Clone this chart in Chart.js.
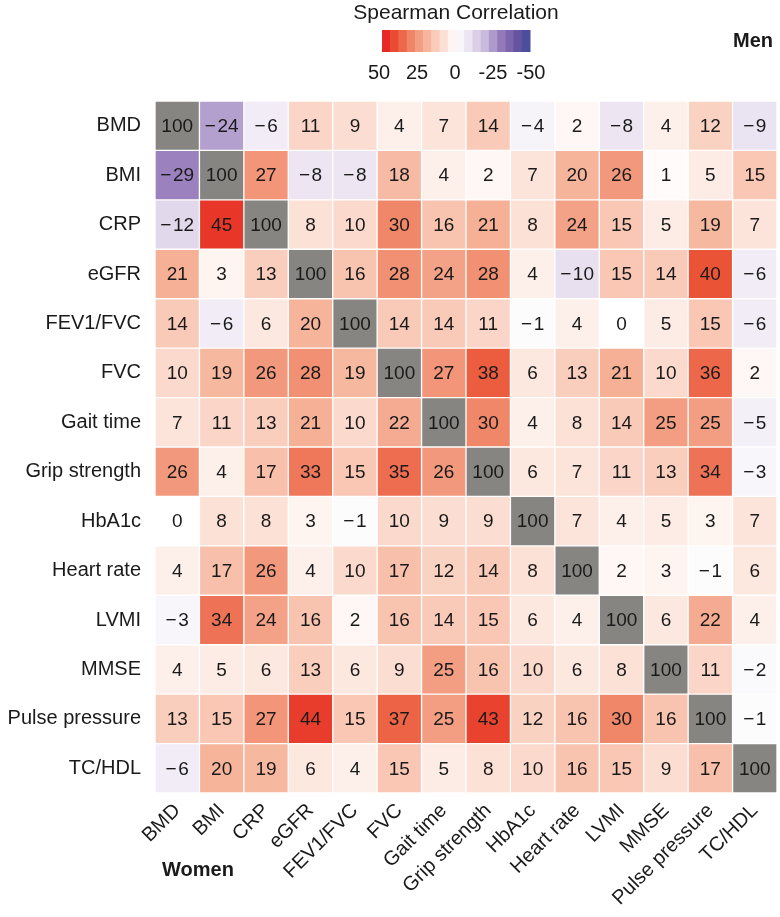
<!DOCTYPE html>
<html>
<head>
<meta charset="utf-8">
<title>Spearman Correlation</title>
<script src="https://cdn.jsdelivr.net/npm/chart.js@4.4.0/dist/chart.umd.min.js"></script>
<style>
  body { margin: 0; background: #fff; }
  canvas { display: block; }
</style>
</head>
<body>
<canvas id="heatmap" width="780" height="917"></canvas>
<script>
// Variables (same order on both axes)
const vars = ["BMD", "BMI", "CRP", "eGFR", "FEV1/FVC", "FVC", "Gait time", "Grip strength",
  "HbA1c", "Heart rate", "LVMI", "MMSE", "Pulse pressure", "TC/HDL"];

// Spearman correlation x100, one row per variable
const rowBMD   = [100, -24, -6, 11, 9, 4, 7, 14, -4, 2, -8, 4, 12, -9];
const rowBMI   = [-29, 100, 27, -8, -8, 18, 4, 2, 7, 20, 26, 1, 5, 15];
const rowCRP   = [-12, 45, 100, 8, 10, 30, 16, 21, 8, 24, 15, 5, 19, 7];
const rowEGFR  = [21, 3, 13, 100, 16, 28, 24, 28, 4, -10, 15, 14, 40, -6];
const rowFEV1  = [14, -6, 6, 20, 100, 14, 14, 11, -1, 4, 0, 5, 15, -6];
const rowFVC   = [10, 19, 26, 28, 19, 100, 27, 38, 6, 13, 21, 10, 36, 2];
const rowGait  = [7, 11, 13, 21, 10, 22, 100, 30, 4, 8, 14, 25, 25, -5];
const rowGrip  = [26, 4, 17, 33, 15, 35, 26, 100, 6, 7, 11, 13, 34, -3];
const rowHbA1c = [0, 8, 8, 3, -1, 10, 9, 9, 100, 7, 4, 5, 3, 7];
const rowHR    = [4, 17, 26, 4, 10, 17, 12, 14, 8, 100, 2, 3, -1, 6];
const rowLVMI  = [-3, 34, 24, 16, 2, 16, 14, 15, 6, 4, 100, 6, 22, 4];
const rowMMSE  = [4, 5, 6, 13, 6, 9, 25, 16, 10, 6, 8, 100, 11, -2];
const rowPP    = [13, 15, 27, 44, 15, 37, 25, 43, 12, 16, 30, 16, 100, -1];
const rowTCHDL = [-6, 20, 19, 6, 4, 15, 5, 8, 10, 16, 15, 9, 17, 100];

const rows = [rowBMD, rowBMI, rowCRP, rowEGFR, rowFEV1, rowFVC, rowGait, rowGrip,
  rowHbA1c, rowHR, rowLVMI, rowMMSE, rowPP, rowTCHDL];

// Colour bar tick labels
const legendTicks = [50, 25, 0, -25, -50];

const FONT = '"Liberation Sans", Arial, Helvetica, sans-serif';
const TEXT = "#1a1a1a";
const DIAG = "#878581";

// red -> white -> purple/blue scale
const stops = [
  [50, [228, 26, 28]],
  [40, [235, 83, 54]],
  [30, [240, 135, 105]],
  [20, [246, 180, 155]],
  [10, [251, 217, 204]],
  [0, [255, 255, 255]],
  [-10, [232, 224, 239]],
  [-20, [200, 184, 220]],
  [-30, [150, 124, 187]],
  [-40, [108, 86, 162]],
  [-50, [63, 74, 154]]
];

function colorFor(v) {
  v = Math.max(-50, Math.min(50, v));
  for (let k = 0; k < stops.length - 1; k++) {
    const [v0, c0] = stops[k];
    const [v1, c1] = stops[k + 1];
    if (v <= v0 && v >= v1) {
      const t = (v0 - v) / (v0 - v1);
      const c = c0.map((ch, n) => Math.round(ch + (c1[n] - ch) * t));
      return `rgb(${c[0]},${c[1]},${c[2]})`;
    }
  }
  return "#fff";
}

// one stacked dataset per row, every cell has height 1
const datasets = rows.map((row, i) => ({
  label: vars[i],
  data: row.map(() => 1),
  backgroundColor: row.map((v, j) => (i === j ? DIAG : colorFor(v))),
  borderColor: "rgba(255,255,255,0.3)",
  borderWidth: 1,
  borderSkipped: false,
  barPercentage: 1,
  categoryPercentage: 1
}));

// numbers inside the cells
const cellText = {
  id: "cellText",
  afterDatasetsDraw(chart) {
    const ctx = chart.ctx;
    ctx.save();
    ctx.font = `19px ${FONT}`;
    ctx.fillStyle = TEXT;
    ctx.textAlign = "center";
    ctx.textBaseline = "middle";
    rows.forEach((row, i) => {
      chart.getDatasetMeta(i).data.forEach((bar, j) => {
        const v = row[j];
        const txt = v < 0 ? "\u2212\u200A" + Math.abs(v) : String(v);
        ctx.fillText(txt, bar.x, (bar.y + bar.base) / 2 + 1);
      });
    });
    ctx.restore();
  }
};

// colour bar, title and Men / Women tags
const legendBar = {
  id: "legendBar",
  afterDraw(chart) {
    const ctx = chart.ctx;
    const mid = 456, half = 74, top = 30, h = 22;
    const steps = 18;
    ctx.save();
    ctx.fillStyle = TEXT;
    ctx.textAlign = "center";
    ctx.textBaseline = "middle";
    ctx.font = `21px ${FONT}`;
    ctx.fillText("Spearman Correlation", mid, 13);

    const w = (2 * half) / steps;
    for (let k = 0; k < steps; k++) {
      const v = 50 - (k + 0.5) * (100 / steps);
      ctx.fillStyle = colorFor(v);
      ctx.fillRect(mid - half + k * w, top, w + 0.5, h);
    }

    ctx.fillStyle = TEXT;
    ctx.font = `20px ${FONT}`;
    legendTicks.forEach(t => {
      ctx.fillText(String(t), 455 - t * 1.52, 73);
    });

    ctx.font = `bold 20px ${FONT}`;
    ctx.textAlign = "right";
    ctx.fillText("Men", 773, 41);
    ctx.textAlign = "left";
    ctx.fillText("Women", 162, 870);
    ctx.restore();
  }
};

new Chart(document.getElementById("heatmap"), {
  type: "bar",
  data: { labels: vars, datasets: datasets },
  plugins: [cellText, legendBar],
  options: {
    responsive: false,
    animation: false,
    devicePixelRatio: 1,
    layout: { padding: { top: 101, right: 3, bottom: 0, left: 0 } },
    plugins: { legend: { display: false }, tooltip: { enabled: false } },
    scales: {
      x: {
        stacked: true,
        grid: { display: false, drawTicks: false },
        border: { display: false },
        ticks: {
          autoSkip: false,
          minRotation: 45,
          maxRotation: 45,
          padding: 6,
          color: TEXT,
          font: { family: FONT, size: 20 }
        },
        afterFit: s => { s.height = 124; }
      },
      y: {
        stacked: true,
        reverse: true,
        min: 0,
        max: 14,
        display: false
      },
      yl: {
        type: "category",
        labels: vars,
        position: "left",
        offset: true,
        grid: { display: false, drawTicks: false },
        border: { display: false },
        ticks: { padding: 14, color: TEXT, font: { family: FONT, size: 20 } },
        afterFit: s => { s.width = 155; }
      }
    }
  }
});
</script>
</body>
</html>
